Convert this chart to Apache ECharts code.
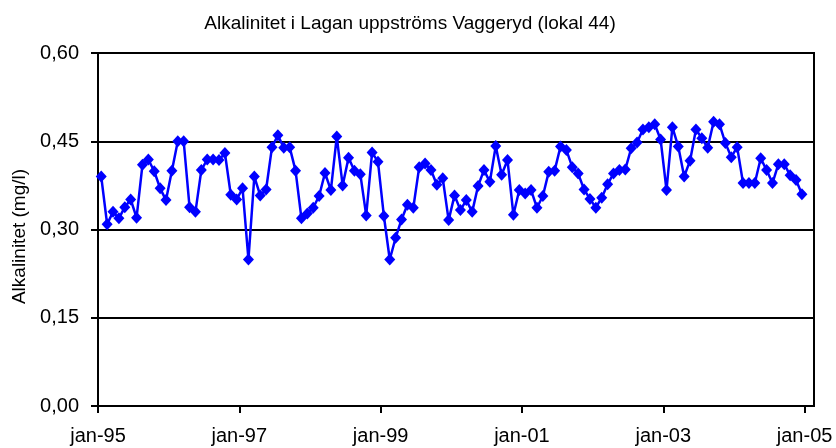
<!DOCTYPE html>
<html>
<head>
    <meta charset="UTF-8">
    <title>Alkalinitet i Lagan uppströms Vaggeryd</title>
    <script src="https://cdn.jsdelivr.net/npm/echarts@6.0.0/dist/echarts.min.js"></script>
    <style>
        html, body {margin: 0; padding: 0; background: #fff;}
        #chart {width: 836px; height: 448px;}
    </style>
</head>
<body>
    <div id="chart"></div>

    <script>
        // månadsvärden jan-95 .. dec-04
        const startYear = 1995;
        const alkalinitet = [
            0.390, 0.309, 0.330, 0.319, 0.338, 0.351, 0.320, 0.410, 0.419, 0.399, 0.370, 0.350,
            0.400, 0.450, 0.450, 0.338, 0.330, 0.401, 0.419, 0.419, 0.418, 0.430, 0.359, 0.351,
            0.370, 0.249, 0.390, 0.358, 0.368, 0.440, 0.460, 0.439, 0.440, 0.400, 0.319, 0.327,
            0.337, 0.357, 0.396, 0.367, 0.458, 0.375, 0.422, 0.400, 0.394, 0.324, 0.431, 0.415,
            0.323, 0.249, 0.286, 0.317, 0.342, 0.337, 0.406, 0.412, 0.401, 0.376, 0.387, 0.316,
            0.358, 0.333, 0.350, 0.330, 0.374, 0.401, 0.381, 0.442, 0.393, 0.418, 0.325, 0.367,
            0.361, 0.367, 0.337, 0.357, 0.398, 0.400, 0.441, 0.435, 0.406, 0.395, 0.368, 0.352,
            0.337, 0.354, 0.377, 0.395, 0.401, 0.402, 0.438, 0.448, 0.470, 0.474, 0.479, 0.453,
            0.367, 0.474, 0.441, 0.390, 0.417, 0.470, 0.455, 0.439, 0.483, 0.479, 0.447, 0.423,
            0.440, 0.379, 0.379, 0.379, 0.421, 0.401, 0.379, 0.411, 0.411, 0.392, 0.384, 0.360
        ];
        const xTickMonths = [0, 24, 48, 72, 96, 120];
        const xTickLabels = ['jan-95', 'jan-97', 'jan-99', 'jan-01', 'jan-03', 'jan-05'];
        const yTicks = [0, 0.15, 0.30, 0.45, 0.60];

        // provet tas mitt i månaden
        const points = alkalinitet.map((v, i) => [i + 0.55, v]);

        const font = 'Liberation Sans, Arial, sans-serif';
        const chart = echarts.init(document.getElementById('chart'));
        chart.setOption({
            animation: false,
            backgroundColor: '#fff',
            title: {
                text: 'Alkalinitet i Lagan uppströms Vaggeryd (lokal 44)',
                left: 405, top: 9, textAlign: 'center',
                textStyle: {fontFamily: font, fontSize: 19, fontWeight: 'normal', color: '#000'}
            },
            grid: {
                left: 98, right: 22, top: 53, bottom: 42,
                show: true, borderColor: '#000', borderWidth: 2
            },
            xAxis: {
                type: 'value', min: 0, max: 121.6, interval: 24,
                axisLine: {onZero: false, lineStyle: {color: '#000', width: 2}},
                axisTick: {length: 7, lineStyle: {color: '#000', width: 2}, customValues: xTickMonths},
                axisLabel: {
                    customValues: xTickMonths,
                    margin: 20,
                    fontFamily: font, fontSize: 20, color: '#000',
                    formatter: v => xTickLabels[Math.round(v / 24)]
                },
                splitLine: {show: false}
            },
            yAxis: {
                type: 'value', min: yTicks[0], max: yTicks[yTicks.length - 1], interval: 0.15,
                name: 'Alkalinitet (mg/l)', nameLocation: 'middle', nameGap: 66,
                nameTextStyle: {fontFamily: font, fontSize: 19, color: '#000', padding: [0, 14, 0, 0]},
                axisLine: {show: true, lineStyle: {color: '#000', width: 2}},
                axisTick: {show: true, length: 7, lineStyle: {color: '#000', width: 2}},
                axisLabel: {
                    margin: 19, fontFamily: font, fontSize: 20, color: '#000',
                    formatter: v => v.toFixed(2).replace('.', ',')
                },
                splitLine: {lineStyle: {color: '#000', width: 2}}
            },
            series: [{
                type: 'line',
                data: points,
                symbol: 'diamond',
                symbolSize: [11, 12],
                lineStyle: {color: '#0000ff', width: 2.5},
                itemStyle: {color: '#0000ff'}
            }]
        });
    </script>
</body>
</html>
